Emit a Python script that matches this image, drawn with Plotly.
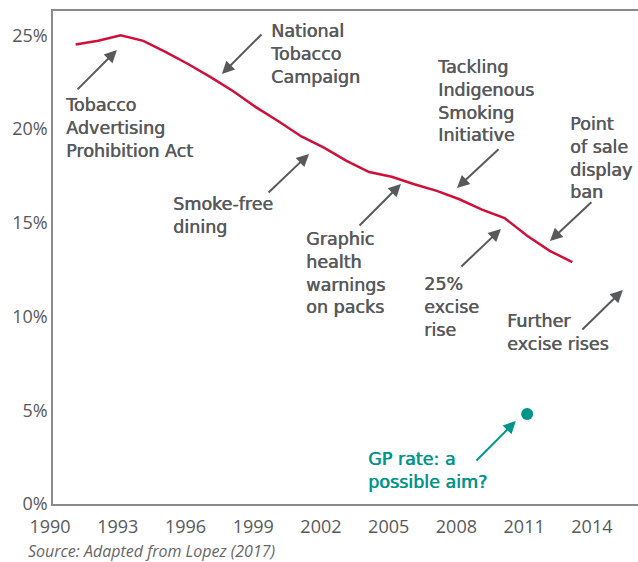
import plotly.graph_objects as go

# Adult daily smoking prevalence, Australia (%)
years = [1991, 1992, 1993, 1994, 1995, 1996, 1997, 1998, 1999, 2000, 2001, 2002,
         2003, 2004, 2005, 2006, 2007, 2008, 2009, 2010, 2011, 2012, 2013]
prevalence = [24.5, 24.7, 25.0, 24.7, 24.1, 23.45, 22.75, 22.0, 21.15, 20.4, 19.6, 19.0,
              18.3, 17.7, 17.45, 17.05, 16.7, 16.25, 15.7, 15.25, 14.3, 13.5, 12.9]

# GP smoking rate shown as a target point
gp_year = [2011]
gp_rate = [4.8]

x_ticks = [1990, 1993, 1996, 1999, 2002, 2005, 2008, 2011, 2014]
x_tick_labels = [str(y) for y in x_ticks]
y_ticks = [0, 5, 10, 15, 20, 25]
y_tick_labels = [f"{v}%" for v in y_ticks]

GREY = "#58595b"
RED = "#d0103a"
TEAL = "#00958a"
FONT = "Open Sans"
NOTE_FONT = "DejaVu Sans"

# policy milestones: (text, text-left x, text-centre y, arrow tail, arrow head)
milestones = [
    ("Tobacco<br>Advertising<br>Prohibition Act", 1990.49, 20.05, (1991.02, 22.03), (1992.83, 24.21)),
    ("National<br>Tobacco<br>Campaign", 1999.57, 24.0, (1999.30, 25.12), (1997.48, 22.93)),
    ("Smoke-free<br>dining", 1995.27, 15.36, (1999.48, 16.53), (2001.34, 18.67)),
    ("Graphic<br>health<br>warnings<br>on packs", 2001.16, 12.32, (2003.51, 14.77), (2005.41, 17.07)),
    ("Tackling<br>Indigenous<br>Smoking<br>Initiative", 2006.96, 21.49, (2009.80, 18.99), (2007.89, 16.85)),
    ("Point<br>of sale<br>display<br>ban", 2012.85, 18.45, (2013.91, 16.16), (2012.01, 14.03)),
    ("25%<br>excise<br>rise", 2006.39, 10.51, (2008.02, 12.59), (2009.84, 14.67)),
    ("Further<br>excise rises", 2010.06, 9.12, (2013.38, 9.23), (2015.24, 11.41)),
]
gp_note = ("GP rate: a<br>possible aim?", 2003.91, 1.81, (2008.69, 2.24), (2010.50, 4.43))

fig = go.Figure()
fig.add_trace(go.Scatter(x=years, y=prevalence, mode="lines",
                         line=dict(color=RED, width=2.5), hoverinfo="skip"))
fig.add_trace(go.Scatter(x=gp_year, y=gp_rate, mode="markers",
                         marker=dict(color=TEAL, size=12), hoverinfo="skip"))

annotations = []


def add_note(item, color):
    text, tx, ty, tail, head = item
    annotations.append(dict(
        text=text, x=tx, y=ty, xref="x", yref="y", xanchor="left", yanchor="middle",
        align="left", showarrow=False, borderpad=0,
        font=dict(family=NOTE_FONT, size=17.5, color=color,
                  shadow=f"0.6px 0px 0px {color}"),
    ))
    annotations.append(dict(
        text="", x=head[0], y=head[1], ax=tail[0], ay=tail[1],
        xref="x", yref="y", axref="x", ayref="y",
        showarrow=True, arrowhead=2, arrowsize=1.25, arrowwidth=2,
        arrowcolor=color, standoff=0, startstandoff=0,
    ))


for m in milestones:
    add_note(m, GREY)
add_note(gp_note, TEAL)

annotations.append(dict(
    text="<i>Source: Adapted from Lopez (2017)</i>", xref="paper", yref="paper",
    x=-0.047, y=-0.095, xanchor="left", yanchor="middle", showarrow=False,
    font=dict(family=FONT, size=16, color="#666666"),
))

fig.update_layout(
    width=638, height=562,
    margin=dict(l=53, r=0, t=11, b=58),
    paper_bgcolor="white", plot_bgcolor="white",
    showlegend=False,
    annotations=annotations,
    xaxis=dict(range=[1989.999, 2015.91], tickvals=x_ticks, ticktext=x_tick_labels,
               showgrid=False, zeroline=False, showline=True, mirror=True,
               linecolor="#8a8a8a", linewidth=1.5, ticks="",
               tickfont=dict(family=FONT, size=18, color=GREY),
               ticklabelshift=-3, ticklabelstandoff=6),
    yaxis=dict(range=[0, 26.29], tickvals=y_ticks, ticktext=y_tick_labels,
               showgrid=False, zeroline=False, showline=True,
               linecolor="#8a8a8a", linewidth=1.5, ticks="",
               tickfont=dict(family=FONT, size=18, color=GREY)),
)

fig.write_html("out.html")
